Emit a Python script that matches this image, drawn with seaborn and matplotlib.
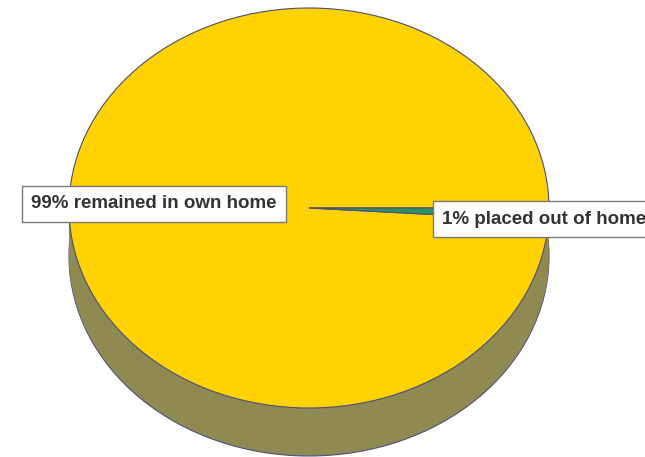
import numpy as np
import seaborn as sns
import matplotlib.pyplot as plt

# pie data
shares = [99, 1]
labels = ["99% remained in own home", "1% placed out of home"]
top_colors = ["#FFD200", "#2E9161"]
side_colors = ["#8E8A52", "#3C6E48"]

sns.set_theme(style="white")
plt.rcParams['font.family'] = ['Liberation Sans', 'DejaVu Sans']

fig = plt.figure(figsize=(6.45, 4.57), dpi=100)
ax = fig.add_axes([0, 0, 1, 1])

# side of the "3D" pie: stack of pies shifted downward
depth = 0.24
n_layers = 48
for k in range(n_layers, 0, -1):
    lw = 0.8 if k == n_layers else 0
    ax.pie(shares, colors=side_colors, startangle=0, counterclock=True,
           center=(0, -depth * k / n_layers), radius=1,
           wedgeprops=dict(edgecolor="#4A4E7A", linewidth=lw), frame=True)

# top face
ax.pie(shares, colors=top_colors, startangle=0, counterclock=True,
       center=(0, 0), radius=1,
       wedgeprops=dict(edgecolor="#4A4E7A", linewidth=0.8), frame=True)

# squash the circle into an ellipse
ax.set_aspect("auto")
ax.set_xlim(-1.2875, 1.4)
ax.set_ylim(-1.245, 1.04)
ax.axis("off")

box = dict(boxstyle="square,pad=0.5", facecolor="white", edgecolor="#7A7A7A", linewidth=1)
ax.text(-0.645, 0.02, labels[0], ha="center", va="center", fontsize=13.5,
        fontweight="bold", color="#333333", bbox=box)
ax.text(0.554, -0.055, labels[1], ha="left", va="center", fontsize=13.5,
        fontweight="bold", color="#333333", bbox=box, clip_on=False)

fig.savefig("out.png", dpi=100)
